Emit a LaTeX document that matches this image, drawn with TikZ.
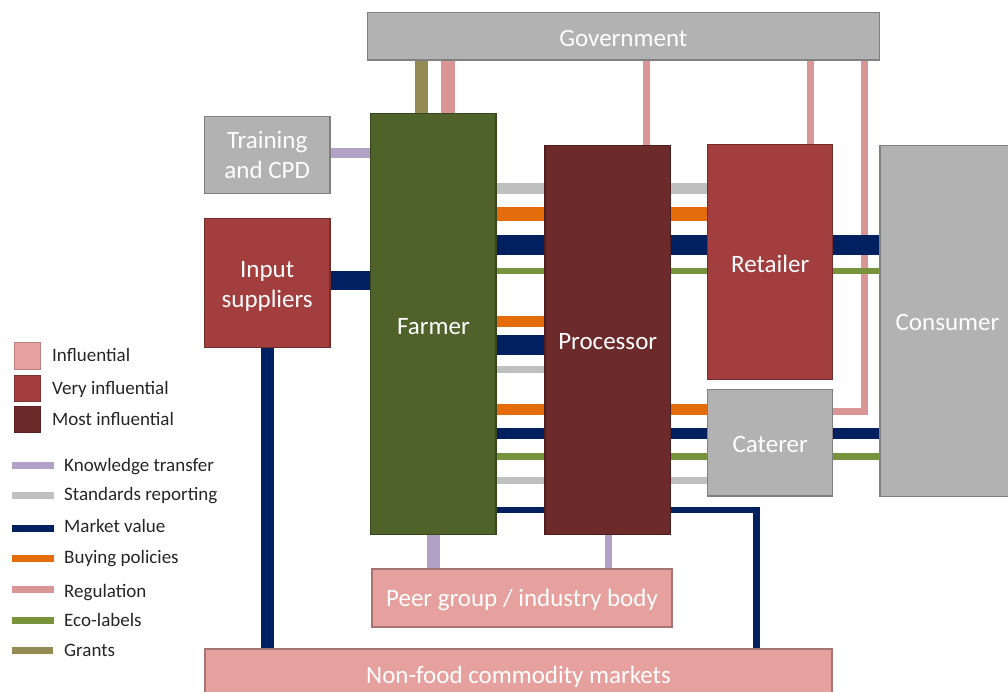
\documentclass[tikz,border=0pt]{standalone}
\usepackage{fontspec}
\setmainfont{Carlito}
\definecolor{boxgray}{HTML}{B2B2B2}
\definecolor{infl}{HTML}{E6A19F}
\definecolor{vinfl}{HTML}{A23E3D}
\definecolor{minfl}{HTML}{6C2A2A}
\definecolor{farmgreen}{HTML}{4F6229}
\definecolor{knowc}{HTML}{B3A2C7}
\definecolor{stdc}{HTML}{C0C0C0}
\definecolor{mktc}{HTML}{002060}
\definecolor{buyc}{HTML}{E46C0A}
\definecolor{regc}{HTML}{D99694}
\definecolor{ecoc}{HTML}{77933C}
\definecolor{grantc}{HTML}{948A54}
\pgfdeclarelayer{bg}
\pgfsetlayers{bg,main}
\newcommand{\lowered}[2]{\raisebox{-#1}[\height][\depth]{#2}}
\tikzset{
  box/.style={draw=#1!72!black, fill=#1, line width=1.2pt, text=white,
    inner sep=0pt, font=\fontsize{25}{30}\selectfont, align=center},
  swatch/.style={draw=#1!80!black, fill=#1, line width=1pt, inner sep=0pt,
    minimum width=25.7pt, minimum height=26.6pt},
  legline/.style={fill=#1, draw=none, inner sep=0pt,
    minimum width=41.7pt, minimum height=6.7pt},
  legtext/.style={anchor=base west, inner sep=0pt, text=black!85,
    font=\fontsize{19}{22}\selectfont},
  conn/.style={draw=#1, line cap=butt, line join=miter},
}
\begin{document}
\begin{tikzpicture}[x=1pt,y=-1pt]
\clip (0,0) rectangle (1008,691);

% ---------- boxes ----------
\node[box=boxgray, minimum width=512pt, minimum height=47.7pt] (gov) at (623.3,36.2) {\lowered{2pt}{Government}};
\node[box=boxgray, minimum width=125.7pt, minimum height=77pt] (training) at (267.2,154.6) {Training\\and CPD};
\node[box=vinfl, minimum width=125.7pt, minimum height=129pt] (input) at (267.2,282.8) {\lowered{4pt}{\begin{tabular}{@{}c@{}}Input\\suppliers\end{tabular}}};
\node[box=farmgreen, minimum width=125.3pt, minimum height=421pt] (farmer) at (433.4,323.8) {\lowered{2.5pt}{Farmer}};
\node[box=minfl, minimum width=125.3pt, minimum height=388.6pt] (processor) at (607.7,340) {\lowered{1.5pt}{Processor}};
\node[box=vinfl, minimum width=125pt, minimum height=235pt] (retailer) at (770.2,261.8) {\lowered{2.5pt}{Retailer}};
\node[box=boxgray, minimum width=125pt, minimum height=106.7pt] (caterer) at (770.2,442.7) {\lowered{2pt}{Caterer}};
\node[box=boxgray, minimum width=135pt, minimum height=351pt] (consumer) at (947.5,321.2) {\lowered{1.5pt}{Consumer}};
\node[box=infl, minimum width=300pt, minimum height=58pt] (peer) at (522,598) {\lowered{2pt}{Peer group / industry body}};
\node[box=infl, minimum width=627pt, minimum height=52pt] (nonfood) at (518.5,675) {\lowered{1.5pt}{Non-food commodity markets}};

% ---------- connectors (behind boxes) ----------
\begin{pgfonlayer}{bg}
\fill[white] (0,0) rectangle (1008,691);
% government
\draw[conn=grantc, line width=13.3pt] (gov.south -| 421.7,0) -- (farmer.north -| 421.7,0);
\draw[conn=regc, line width=13.7pt] (gov.south -| 448,0) -- (farmer.north -| 448,0);
\draw[conn=regc, line width=6.7pt] (gov.south -| 646.3,0) -- (processor.north -| 646.3,0);
\draw[conn=regc, line width=6.7pt] (gov.south -| 810.3,0) -- (retailer.north -| 810.3,0);
\draw[conn=regc, line width=6.7pt] (gov.south -| 864.3,0) |- (caterer.east |- 0,411.3);
% training, input suppliers
\draw[conn=knowc, line width=10.7pt] (training.east |- 0,153) -- (farmer.west |- 0,153);
\draw[conn=mktc, line width=19pt] (input.east |- 0,280.5) -- (farmer.west |- 0,280.5);
\draw[conn=mktc, line width=13pt] (input.south -| 267.5,0) -- (nonfood.north -| 267.5,0);
% farmer -> retailer (under processor)
\draw[conn=stdc, line width=10.7pt] (farmer.east |- 0,188.7) -- (retailer.west |- 0,188.7);
\draw[conn=buyc, line width=13.3pt] (farmer.east |- 0,214) -- (retailer.west |- 0,214);
\draw[conn=mktc, line width=20.7pt] (farmer.east |- 0,245) -- (retailer.west |- 0,245);
\draw[conn=ecoc, line width=6.7pt] (farmer.east |- 0,271) -- (retailer.west |- 0,271);
% retailer -> consumer
\draw[conn=mktc, line width=20.7pt] (retailer.east |- 0,245) -- (consumer.west |- 0,245);
\draw[conn=ecoc, line width=6.7pt] (retailer.east |- 0,271) -- (consumer.west |- 0,271);
% farmer -> processor
\draw[conn=buyc, line width=11.3pt] (farmer.east |- 0,321.7) -- (processor.west |- 0,321.7);
\draw[conn=mktc, line width=20pt] (farmer.east |- 0,345) -- (processor.west |- 0,345);
\draw[conn=stdc, line width=6.7pt] (farmer.east |- 0,369.3) -- (processor.west |- 0,369.3);
% farmer -> caterer (under processor)
\draw[conn=buyc, line width=10.7pt] (farmer.east |- 0,409.3) -- (caterer.west |- 0,409.3);
\draw[conn=mktc, line width=11.3pt] (farmer.east |- 0,433.3) -- (caterer.west |- 0,433.3);
\draw[conn=ecoc, line width=6.7pt] (farmer.east |- 0,456.3) -- (caterer.west |- 0,456.3);
\draw[conn=stdc, line width=7.3pt] (farmer.east |- 0,480.3) -- (caterer.west |- 0,480.3);
% caterer -> consumer
\draw[conn=mktc, line width=11.3pt] (caterer.east |- 0,433.3) -- (consumer.west |- 0,433.3);
\draw[conn=ecoc, line width=6.7pt] (caterer.east |- 0,456.3) -- (consumer.west |- 0,456.3);
% farmer -> non-food (under processor)
\draw[conn=mktc, line width=6.7pt] (farmer.east |- 0,510) -| (nonfood.north -| 756.5,0);
% peer group
\draw[conn=knowc, line width=13pt] (farmer.south -| 433.5,0) -- (peer.north -| 433.5,0);
\draw[conn=knowc, line width=6.7pt] (processor.south -| 608.7,0) -- (peer.north -| 608.7,0);
\end{pgfonlayer}

% ---------- legend ----------
\node[swatch=infl] (sq1) at (27.8,356) {};
\node[swatch=vinfl] (sq2) at (27.8,388.3) {};
\node[swatch=minfl] (sq3) at (27.8,419.3) {};
\node[legtext] (t1) at (52,361) {Influential};
\node[legtext] (t2) at (52,394.5) {Very influential};
\node[legtext] (t3) at (52,425.5) {Most influential};

\node[legline=knowc] (l1) at (33.2,465.3) {};
\node[legline=stdc] (l2) at (33.2,495.7) {};
\node[legline=mktc] (l3) at (33.2,528.3) {};
\node[legline=buyc] (l4) at (33.2,558.3) {};
\node[legline=regc] (l5) at (33.2,589.7) {};
\node[legline=ecoc] (l6) at (33.2,620.3) {};
\node[legline=grantc] (l7) at (32.5,650.3) {};
\node[legtext] (lt1) at (64,471.5) {Knowledge transfer};
\node[legtext] (lt2) at (64,500.5) {Standards reporting};
\node[legtext] (lt3) at (64,532.5) {Market value};
\node[legtext] (lt4) at (64,563.5) {Buying policies};
\node[legtext] (lt5) at (64,597) {Regulation};
\node[legtext] (lt6) at (64,626.5) {Eco-labels};
\node[legtext] (lt7) at (64,656.5) {Grants};
\end{tikzpicture}
\end{document}
